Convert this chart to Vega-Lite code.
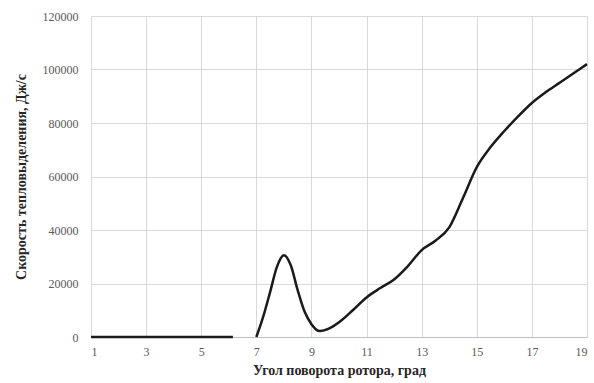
{
  "$schema": "https://vega.github.io/schema/vega-lite/v6.json",
  "width": 496,
  "height": 321,
  "autosize": {"type": "none"},
  "padding": {"left": 91, "top": 16, "right": 7, "bottom": 46},
  "background": "white",
  "config": {
    "view": {"stroke": null},
    "font": "Liberation Serif"
  },
  "data": {
    "values": [
      {"angle": 1.0, "rate": 0, "seg": "a"},
      {"angle": 6.15, "rate": 0, "seg": "a"},
      {"angle": 7.0, "rate": 0, "seg": "b"},
      {"angle": 7.25, "rate": 7600, "seg": "b"},
      {"angle": 7.5, "rate": 16800, "seg": "b"},
      {"angle": 7.75, "rate": 26300, "seg": "b"},
      {"angle": 8.0, "rate": 30600, "seg": "b"},
      {"angle": 8.25, "rate": 26800, "seg": "b"},
      {"angle": 8.5, "rate": 17500, "seg": "b"},
      {"angle": 8.75, "rate": 9500, "seg": "b"},
      {"angle": 9.0, "rate": 4800, "seg": "b"},
      {"angle": 9.3, "rate": 2200, "seg": "b"},
      {"angle": 9.65, "rate": 3200, "seg": "b"},
      {"angle": 10.0, "rate": 5500, "seg": "b"},
      {"angle": 10.5, "rate": 10000, "seg": "b"},
      {"angle": 11.0, "rate": 14800, "seg": "b"},
      {"angle": 11.5, "rate": 18300, "seg": "b"},
      {"angle": 12.0, "rate": 21500, "seg": "b"},
      {"angle": 12.5, "rate": 26500, "seg": "b"},
      {"angle": 13.0, "rate": 32500, "seg": "b"},
      {"angle": 13.5, "rate": 36000, "seg": "b"},
      {"angle": 14.0, "rate": 41000, "seg": "b"},
      {"angle": 14.5, "rate": 52000, "seg": "b"},
      {"angle": 15.0, "rate": 63500, "seg": "b"},
      {"angle": 15.5, "rate": 71000, "seg": "b"},
      {"angle": 16.0, "rate": 77000, "seg": "b"},
      {"angle": 16.5, "rate": 82500, "seg": "b"},
      {"angle": 17.0, "rate": 87500, "seg": "b"},
      {"angle": 17.5, "rate": 91500, "seg": "b"},
      {"angle": 18.0, "rate": 95000, "seg": "b"},
      {"angle": 18.5, "rate": 98500, "seg": "b"},
      {"angle": 19.0, "rate": 102000, "seg": "b"}
    ]
  },
  "mark": {"type": "line", "color": "#1a1a1a", "strokeWidth": 2.5, "interpolate": "monotone"},
  "encoding": {
    "detail": {"field": "seg"},
    "x": {
      "field": "angle",
      "type": "quantitative",
      "scale": {"domain": [1, 19], "nice": false, "zero": false},
      "axis": {
        "values": [1, 3, 5, 7, 9, 11, 13, 15, 17, 19],
        "title": "Угол поворота ротора, град",
        "titleFont": "Liberation Serif",
        "titleFontWeight": "bold",
        "titleFontSize": 14,
        "titleColor": "#262626",
        "titlePadding": 6,
        "labelFont": "Liberation Serif",
        "labelFontSize": 12,
        "labelColor": "#595959",
        "labelPadding": 9,
        "domain": true,
        "domainColor": "#bfbfbf",
        "ticks": false,
        "grid": true,
        "gridColor": "#d9d9d9"
      }
    },
    "y": {
      "field": "rate",
      "type": "quantitative",
      "scale": {"domain": [0, 120000], "nice": false},
      "axis": {
        "values": [0, 20000, 40000, 60000, 80000, 100000, 120000],
        "format": "d",
        "title": "Скорость тепловыделения, Дж/с",
        "titleFont": "Liberation Serif",
        "titleFontWeight": "bold",
        "titleFontSize": 14,
        "titleColor": "#262626",
        "titlePadding": 14,
        "labelFont": "Liberation Serif",
        "labelFontSize": 12,
        "labelColor": "#595959",
        "labelPadding": 13,
        "domain": false,
        "ticks": false,
        "grid": true,
        "gridColor": "#d9d9d9"
      }
    }
  }
}
